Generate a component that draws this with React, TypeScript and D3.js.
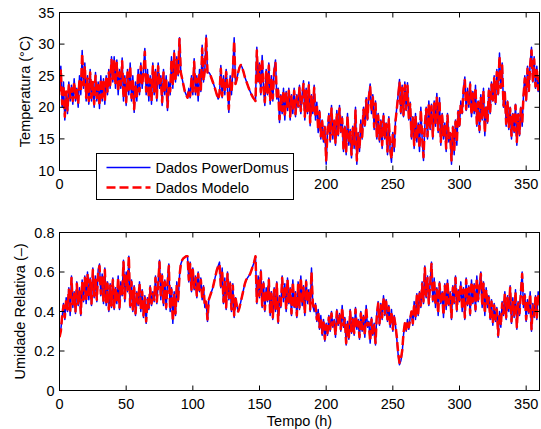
import React from 'react';
import * as d3 from 'd3';

const X_TICKS = [0, 50, 100, 150, 200, 250, 300, 350];
const T_TICKS = [10, 15, 20, 25, 30, 35];
const H_TICKS = [0, 0.2, 0.4, 0.6, 0.8];
const SERIES_NAMES = ['Dados PowerDomus', 'Dados Modelo'];

// Temperatura (°C), one sample per hour 0..360
const T_POWERDOMUS = [
  23, 26.5, 20, 24, 18, 22, 19, 24, 21, 23.5, 20.5, 24.5, 21, 23, 20, 25, 22, 29, 23, 27,
  21, 25, 20.5, 26, 21, 24, 20, 25.5, 21, 24, 19.8, 25, 21, 24.5, 20.5, 25, 22, 26, 23, 28,
  24, 28, 23, 27.5, 22, 26, 23, 27.8, 21, 25, 20.3, 26, 22, 27, 21, 25, 19.2, 24, 21, 26,
  22, 27, 23, 26, 29.3, 22, 26, 21, 25, 20.5, 27, 22, 26, 21, 27, 23, 25, 20.3, 26, 22,
  25, 19.5, 24, 22, 28, 23, 29, 24, 28, 25, 31, 25.5, 24.5, 23.5, 22.5, 22, 21.5, 23, 21.5, 25,
  22, 27.7, 22, 25, 21, 26, 22.5, 29.8, 24, 26, 31.4, 25.5, 25.5, 25.2, 24.6, 24, 23.4, 22.7, 22, 21.3,
  22, 26.6, 21.5, 25, 22, 26, 23, 19.2, 25, 22, 26, 31, 23.7, 24.5, 25.5, 26.3, 26.7, 26.3, 25.6, 24.8,
  24.2, 23.6, 23, 22.5, 22, 21.6, 21.3, 21, 29.5, 24, 27, 22, 28.2, 23, 20.3, 26, 22, 27, 20.5, 25,
  21, 26, 27.5, 21.3, 23, 17.6, 22, 19, 23, 18, 22.5, 19.5, 23, 18, 22, 19, 23, 18.5, 22, 20,
  23.5, 19, 22, 24.2, 18, 23, 19, 24, 17.1, 22, 19, 23.5, 18, 20.8, 16, 19.5, 15, 18, 14.5, 17,
  11, 16, 19, 14.5, 20.3, 15, 18, 14, 19.5, 15.5, 20.3, 16, 18.5, 13, 17, 12.5, 19, 14, 16.5, 12,
  17, 13.5, 20, 11, 16, 13, 18, 15, 20, 17, 21.5, 18, 22, 23.7, 19, 22, 16.5, 21, 15, 19,
  14.5, 18, 13.5, 19, 15, 17.5, 12.5, 18.5, 13, 11.3, 16, 13, 18, 20, 22, 24.4, 19, 23.5, 18.5, 24,
  19.5, 23.9, 18, 20.8, 15, 18.5, 13.5, 19, 14.5, 17.5, 13, 20, 15, 11.6, 17, 20, 15, 21, 16.5, 20.5,
  15, 21, 17, 22.2, 16, 21.5, 14, 19, 15, 17.5, 13, 19, 14.5, 16, 11, 17, 12.5, 18, 14, 19.5,
  17, 21, 19, 23, 24.8, 19.5, 23, 20, 24, 18.5, 22.5, 19, 23.5, 17, 21, 16, 22, 18, 23, 15.5,
  20, 17.5, 23, 19, 24, 21, 25, 20.5, 26, 22, 28.6, 23, 27, 20, 22.5, 17, 21, 16.5, 20, 15,
  19, 16, 20.5, 14, 19, 15.5, 20, 17, 22, 25, 21, 26.5, 22.5, 27, 29.5, 24, 28, 23, 26.5, 22.5, 25,
];

const T_MODELO = [
  22.5, 26, 20.5, 23.5, 18.5, 22.5, 19.5, 23.5, 21.5, 23, 21, 24, 21.5, 23, 20.5, 24.5, 22.5, 28.5, 23.5, 26.5,
  21.5, 24.5, 21, 25.5, 21.5, 24, 20.5, 25, 21.5, 23.5, 20.3, 24.5, 21.5, 24, 21, 24.5, 22.5, 25.5, 23.5, 27.5,
  24.5, 27.5, 23.5, 27, 22.5, 25.5, 23.5, 27.3, 21.5, 24.5, 20.8, 25.5, 22.5, 26.5, 21.5, 24.5, 19.7, 23.5, 21.5, 25.5,
  22.5, 26.5, 23.5, 25.5, 28.8, 22.5, 25.5, 21.5, 24.5, 21, 26.5, 22.5, 25.5, 21.5, 26.5, 23.5, 24.5, 20.8, 25.5, 22.5,
  24.5, 20, 23.5, 22.5, 27.5, 23.5, 28.5, 24.5, 27.5, 25, 30.8, 25.5, 24.5, 23.5, 22.5, 22, 21.5, 22.8, 21.8, 24.5,
  22.3, 27.2, 22.5, 24.5, 21.5, 25.5, 22.8, 29.3, 24.2, 25.8, 30.9, 25.5, 25.5, 25.2, 24.6, 24, 23.4, 22.7, 22, 21.3,
  22.2, 26.1, 21.8, 24.6, 22.3, 25.6, 23.2, 19.7, 24.6, 22.3, 25.6, 30.5, 23.7, 24.5, 25.5, 26.3, 26.7, 26.3, 25.6, 24.8,
  24.2, 23.6, 23, 22.5, 22, 21.6, 21.3, 21, 29, 24, 26.6, 22.4, 27.7, 23.2, 20.8, 25.6, 22.3, 26.6, 21, 24.6,
  21.4, 25.6, 27, 21.7, 22.7, 18.1, 21.7, 19.4, 22.6, 18.5, 22.2, 19.8, 22.6, 18.5, 21.7, 19.4, 22.6, 18.9, 21.7, 20.2,
  23.1, 19.4, 21.8, 23.7, 18.5, 22.6, 19.4, 23.5, 17.6, 21.7, 19.3, 23.1, 18.4, 20.5, 16.4, 19.2, 15.4, 17.8, 15, 16.8,
  11.6, 16.2, 18.6, 14.9, 19.8, 15.3, 17.8, 14.4, 19.1, 15.8, 19.8, 16.2, 18.2, 13.5, 16.8, 13, 18.6, 14.4, 16.3, 12.5,
  16.7, 13.9, 19.5, 11.6, 15.8, 13.4, 17.7, 15.3, 19.6, 17.2, 21.1, 18.2, 21.6, 23.2, 19.3, 21.6, 16.9, 20.6, 15.4, 18.7,
  14.9, 17.7, 14, 18.6, 15.3, 17.3, 13, 18.1, 13.5, 11.8, 15.8, 13.4, 17.8, 19.8, 21.7, 23.9, 19.3, 23.1, 18.8, 23.5,
  19.7, 23.4, 18.3, 20.5, 15.4, 18.3, 14, 18.7, 14.9, 17.3, 13.5, 19.6, 15.3, 12.1, 17.2, 19.7, 15.4, 20.6, 16.8, 20.2,
  15.4, 20.6, 17.2, 21.7, 16.4, 21.1, 14.5, 18.7, 15.3, 17.3, 13.5, 18.7, 14.9, 15.9, 11.6, 16.8, 13, 17.7, 14.4, 19.2,
  17.2, 20.7, 19.2, 22.6, 24.3, 19.7, 22.6, 20.2, 23.6, 18.8, 22.2, 19.3, 23.1, 17.4, 20.8, 16.4, 21.7, 18.3, 22.6, 16,
  20.2, 17.8, 22.6, 19.3, 23.6, 21.1, 24.6, 20.7, 25.6, 22.2, 28.1, 23.1, 26.6, 20.3, 22.3, 17.4, 20.8, 16.9, 19.8, 15.5,
  18.8, 16.3, 20.3, 14.5, 18.8, 15.8, 19.8, 17.3, 21.8, 24.6, 21.2, 26.1, 22.6, 26.6, 29, 24.2, 27.6, 23.3, 26.2, 22.8, 24.8,
];

// Umidade relativa (-), one sample per hour 0..360
const H_POWERDOMUS = [
  .28, .31, .37, .44, .36, .47, .40, .52, .38, .58, .42, .50, .39, .55, .43, .52, .38, .56, .45, .58,
  .44, .60, .46, .57, .43, .62, .47, .58, .45, .61, .64, .48, .59, .44, .62, .43, .55, .40, .54, .42,
  .57, .41, .52, .44, .58, .41, .55, .48, .66, .45, .60, .50, .68, .42, .56, .40, .53, .38, .50, .43,
  .55, .40, .51, .37, .48, .34, .47, .41, .53, .43, .50, .45, .58, .44, .55, .66, .46, .59, .43, .56,
  .41, .55, .64, .40, .52, .34, .50, .38, .55, .45, .58, .64, .66, .67, .675, .68, .68, .55, .65, .50,
  .62, .51, .58, .47, .60, .50, .57, .46, .53, .42, .45, .35, .46, .48, .50, .52, .55, .58, .61, .63,
  .65, .52, .62, .44, .57, .41, .60, .46, .55, .40, .54, .37, .47, .43, .40, .42, .45, .48, .51, .54,
  .56, .57, .58, .59, .61, .63, .65, .68, .44, .58, .47, .61, .42, .55, .40, .52, .45, .57, .38, .50,
  .36, .52, .40, .55, .34, .48, .42, .58, .45, .54, .40, .57, .44, .52, .38, .56, .42, .50, .37, .55,
  .41, .58, .43, .53, .38, .56, .44, .51, .40, .62, .43, .40, .44, .35, .41, .31, .38, .28, .36, .25,
  .34, .28, .38, .30, .40, .32, .36, .27, .41, .33, .39, .30, .43, .32, .37, .23, .35, .26, .41, .29,
  .37, .28, .42, .31, .36, .26, .40, .30, .38, .27, .43, .32, .35, .24, .37, .28, .34, .23, .39, .45,
  .33, .44, .36, .48, .38, .46, .35, .43, .32, .41, .30, .38, .33, .26, .18, .13, .15, .19, .28, .34,
  .30, .36, .31, .37, .40, .33, .45, .36, .49, .38, .50, .42, .55, .44, .63, .47, .58, .43, .55, .65,
  .45, .57, .42, .52, .38, .55, .44, .50, .37, .54, .41, .56, .43, .50, .36, .53, .44, .58, .40, .51,
  .45, .55, .40, .52, .36, .57, .43, .53, .38, .56, .44, .54, .40, .58, .45, .52, .60, .42, .55, .38,
  .52, .42, .48, .36, .46, .33, .44, .35, .42, .27, .40, .32, .45, .38, .50, .36, .48, .40, .53, .34,
  .47, .37, .51, .31, .45, .38, .50, .60, .42, .49, .35, .46, .39, .50, .30, .44, .37, .48, .36, .50, .46,
];

const H_MODELO = [
  .27, .30, .38, .43, .37, .46, .41, .51, .39, .57, .43, .49, .40, .54, .44, .51, .39, .55, .46, .57,
  .45, .59, .47, .56, .44, .61, .48, .57, .46, .60, .63, .49, .58, .45, .61, .44, .54, .41, .53, .43,
  .56, .42, .51, .45, .57, .42, .54, .49, .65, .46, .59, .51, .68, .43, .55, .41, .52, .39, .49, .44,
  .54, .41, .50, .38, .47, .35, .46, .42, .52, .44, .49, .46, .57, .45, .54, .65, .47, .58, .44, .55,
  .42, .54, .63, .41, .51, .35, .49, .39, .54, .46, .58, .64, .66, .67, .675, .68, .68, .56, .64, .51,
  .61, .52, .57, .48, .59, .51, .56, .47, .52, .43, .45, .36, .46, .48, .50, .52, .55, .58, .61, .63,
  .64, .53, .61, .45, .56, .42, .59, .47, .54, .41, .53, .38, .47, .43, .40, .42, .45, .48, .51, .54,
  .56, .57, .58, .59, .61, .63, .65, .68, .45, .57, .48, .60, .43, .54, .41, .51, .46, .56, .39, .49,
  .37, .51, .41, .54, .35, .47, .43, .57, .46, .53, .41, .56, .45, .51, .39, .55, .43, .49, .38, .54,
  .42, .57, .44, .52, .39, .55, .45, .50, .41, .60, .44, .41, .43, .36, .40, .32, .37, .29, .35, .26,
  .33, .29, .37, .31, .39, .33, .35, .28, .40, .34, .38, .31, .42, .33, .36, .24, .34, .27, .40, .30,
  .36, .29, .41, .32, .35, .27, .39, .31, .37, .28, .42, .33, .34, .25, .36, .29, .33, .24, .38, .44,
  .34, .43, .37, .47, .39, .45, .36, .42, .33, .40, .31, .37, .33, .27, .19, .14, .16, .20, .29, .34,
  .31, .35, .32, .36, .40, .34, .44, .37, .48, .39, .49, .43, .54, .45, .62, .48, .57, .44, .54, .64,
  .46, .56, .43, .51, .39, .54, .45, .49, .38, .53, .42, .55, .44, .49, .37, .52, .45, .57, .41, .50,
  .46, .54, .41, .51, .37, .56, .44, .52, .39, .55, .45, .53, .41, .57, .46, .51, .59, .43, .54, .39,
  .51, .43, .47, .37, .45, .34, .43, .36, .41, .28, .39, .33, .44, .39, .49, .37, .47, .41, .52, .35,
  .46, .38, .50, .32, .44, .39, .49, .59, .43, .48, .36, .45, .40, .49, .31, .43, .38, .47, .37, .49, .46,
];

const FONT = '"Liberation Sans", Arial, Helvetica, sans-serif';
const FS = 14.5;
const BLUE = '#0000ff';
const RED = '#ff0000';

type PanelProps = {
  top: number;
  bottom: number;
  left: number;
  right: number;
  x: d3.ScaleLinear<number, number>;
  y: d3.ScaleLinear<number, number>;
  yTicks: number[];
  fmt: (v: number) => string;
  blue: number[];
  red: number[];
  id: string;
  ylabel: string;
  ylabelX: number;
  hideXLabel?: (px: number) => boolean;
};

function Panel({ top, bottom, left, right, x, y, yTicks, fmt, blue, red, id, ylabel, ylabelX, hideXLabel }: PanelProps) {
  const line = d3
    .line<number>()
    .x((_, i) => x(i))
    .y((d) => y(d));
  const tl = 5;
  return (
    <g>
      <defs>
        <clipPath id={id}>
          <rect x={left} y={top} width={right - left} height={bottom - top} />
        </clipPath>
      </defs>
      <g clipPath={`url(#${id})`}>
        <path d={line(blue) || ''} fill="none" stroke={BLUE} strokeWidth={1.5} strokeLinejoin="round" />
        <path d={line(red) || ''} fill="none" stroke={RED} strokeWidth={2.5} strokeDasharray="9,4" strokeLinejoin="round" />
      </g>
      <rect x={left} y={top} width={right - left} height={bottom - top} fill="none" stroke="#000" strokeWidth={1} />
      {X_TICKS.map((t) => (
        <g key={'x' + t}>
          <line x1={x(t)} x2={x(t)} y1={bottom} y2={bottom - tl} stroke="#000" />
          <line x1={x(t)} x2={x(t)} y1={top} y2={top + tl} stroke="#000" />
          {hideXLabel && hideXLabel(x(t)) ? null : (
            <text x={x(t)} y={bottom + 18.5} textAnchor="middle" fontSize={FS} fontFamily={FONT}>
              {t}
            </text>
          )}
        </g>
      ))}
      {yTicks.map((t) => (
        <g key={'y' + t}>
          <line x1={left} x2={left + tl} y1={y(t)} y2={y(t)} stroke="#000" />
          <line x1={right} x2={right - tl} y1={y(t)} y2={y(t)} stroke="#000" />
          <text x={left - 5} y={y(t) + 5} textAnchor="end" fontSize={FS} fontFamily={FONT}>
            {fmt(t)}
          </text>
        </g>
      ))}
      <text
        transform={`translate(${ylabelX},${(top + bottom) / 2}) rotate(-90)`}
        textAnchor="middle"
        fontSize={FS}
        fontFamily={FONT}
      >
        {ylabel}
      </text>
    </g>
  );
}

export default function App() {
  const W = 541;
  const H = 429;
  const left = 59.5;
  const right = 539.5;
  const top1 = 12.5;
  const bot1 = 170.5;
  const top2 = 232.5;
  const bot2 = 390.5;

  const x = d3.scaleLinear().domain([0, 360]).range([left, right]);
  const yT = d3.scaleLinear().domain([10, 35]).range([bot1, top1]);
  const yH = d3.scaleLinear().domain([0, 0.8]).range([bot2, top2]);

  const legX = 96.5;
  const legY = 153.5;
  const legW = 197;
  const legH = 46;

  return (
    <svg
      width={W}
      height={H}
      viewBox={`0 0 ${W} ${H}`}
      style={{ position: 'absolute', left: 0, top: 0, background: '#fff' }}
    >
      <rect x={0} y={0} width={W} height={H} fill="#fff" />
      <Panel
        top={top1}
        bottom={bot1}
        left={left}
        right={right}
        x={x}
        y={yT}
        yTicks={T_TICKS}
        fmt={(v) => String(v)}
        blue={T_POWERDOMUS}
        red={T_MODELO}
        id="clipT"
        ylabel="Temperatura (°C)"
        ylabelX={30}
        hideXLabel={(px) => px > legX - 12 && px < legX + legW + 12}
      />
      <Panel
        top={top2}
        bottom={bot2}
        left={left}
        right={right}
        x={x}
        y={yH}
        yTicks={H_TICKS}
        fmt={(v) => (v === 0 ? '0' : d3.format('.1f')(v))}
        blue={H_POWERDOMUS}
        red={H_MODELO}
        id="clipH"
        ylabel="Umidade Relativa (–)"
        ylabelX={24.5}
      />
      <text x={(left + right) / 2} y={425.5} textAnchor="middle" fontSize={FS} fontFamily={FONT}>
        Tempo (h)
      </text>
      <g>
        <rect x={legX} y={legY} width={legW} height={legH} fill="#fff" stroke="#000" strokeWidth={1} />
        <line x1={legX + 10} x2={legX + 54} y1={legY + 14} y2={legY + 14} stroke={BLUE} strokeWidth={1.5} />
        <line
          x1={legX + 10}
          x2={legX + 54}
          y1={legY + 34}
          y2={legY + 34}
          stroke={RED}
          strokeWidth={2.5}
          strokeDasharray="9,4"
        />
        <text x={legX + 59} y={legY + 19} fontSize={FS} fontFamily={FONT}>
          {SERIES_NAMES[0]}
        </text>
        <text x={legX + 59} y={legY + 39} fontSize={FS} fontFamily={FONT}>
          {SERIES_NAMES[1]}
        </text>
      </g>
    </svg>
  );
}
